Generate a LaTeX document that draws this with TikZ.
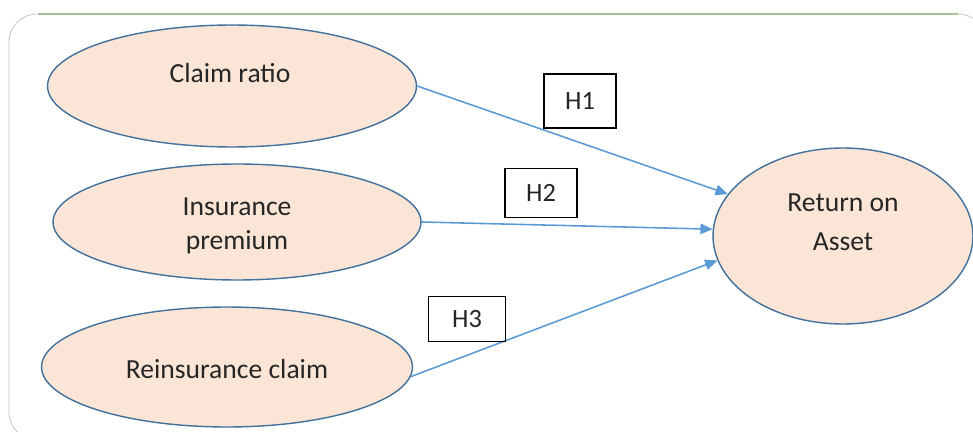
\documentclass[tikz,border=0pt]{standalone}
\usepackage{fontspec}
\setmainfont{Carlito}
\usetikzlibrary{shapes.geometric,arrows.meta}

\definecolor{peach}{HTML}{FBE5D6}
\definecolor{ovalline}{HTML}{41719C}
\definecolor{linkblue}{HTML}{5B9BD5}
\definecolor{framegray}{HTML}{C8C8C8}
\definecolor{framegreen}{HTML}{A9BF94}

\begin{document}
\begin{tikzpicture}[x=0.02cm,y=-0.02cm,
    oval/.style={ellipse, draw=ovalline, fill=peach, line width=0.8pt, inner sep=0pt},
    lbl/.style={font=\fontsize{15.7}{22}\selectfont, align=center, text=black!85},
    hbox/.style={draw=black, line width=0.8pt, inner sep=0pt,
                 minimum width=1.44cm, minimum height=1.0cm,
                 font=\fontsize{15}{18}\selectfont, text=black!85},
    link/.style={draw=linkblue, line width=0.9pt, -{Triangle[length=7pt,width=6pt]}}]

    % --- Page size (reference is 973 x 432 px) ---
    \useasboundingbox (0,0) rectangle (973,432);

    % --- Outer frame, partly cut off by the page ---
    \begin{scope}
        \clip (0,0) rectangle (973,432);
        \draw[framegray, line width=0.5pt, rounded corners=0.56cm] (9,14) rectangle (986,440);
        \draw[framegreen, line width=0.8pt] (38,14) -- (958,14);
    \end{scope}

    % --- Independent variables ---
    \node[oval, minimum width=7.38cm, minimum height=2.44cm] (cr) at (232,86) {};
    \node[oval, minimum width=7.36cm, minimum height=2.32cm] (ip) at (237,222) {};
    \node[oval, minimum width=7.42cm, minimum height=2.40cm] (rc) at (227,367) {};

    % --- Dependent variable ---
    \node[oval, minimum width=5.2cm, minimum height=3.52cm] (roa) at (843,236) {};

    % --- Texts in the ovals ---
    \node[lbl] (crt) at (230,73) {Claim ratio};
    \node[lbl, font=\fontsize{15.7}{19}\selectfont] (ipt) at (237,226) {Insurance\\premium};
    \node[lbl] (rct) at (227,369) {Reinsurance claim};
    \node[lbl] (roat) at (843,222) {Return on\\Asset};

    % --- Hypothesis paths (angles as seen on the page) ---
    \draw[link] (cr.east) -- (roa.160);  % H1
    \draw[link] (ip.east) -- (roa.177);  % H2
    \draw[link] (rc.-3) -- (roa.191);    % H3

    % --- Hypothesis boxes ---
    \node[hbox, minimum height=1.08cm] (h1) at (580,101) {H1};
    \node[hbox, minimum height=0.98cm] (h2) at (541,193) {H2};
    \node[hbox, minimum width=1.54cm, minimum height=0.9cm] (h3) at (467,319) {H3};

\end{tikzpicture}
\end{document}
